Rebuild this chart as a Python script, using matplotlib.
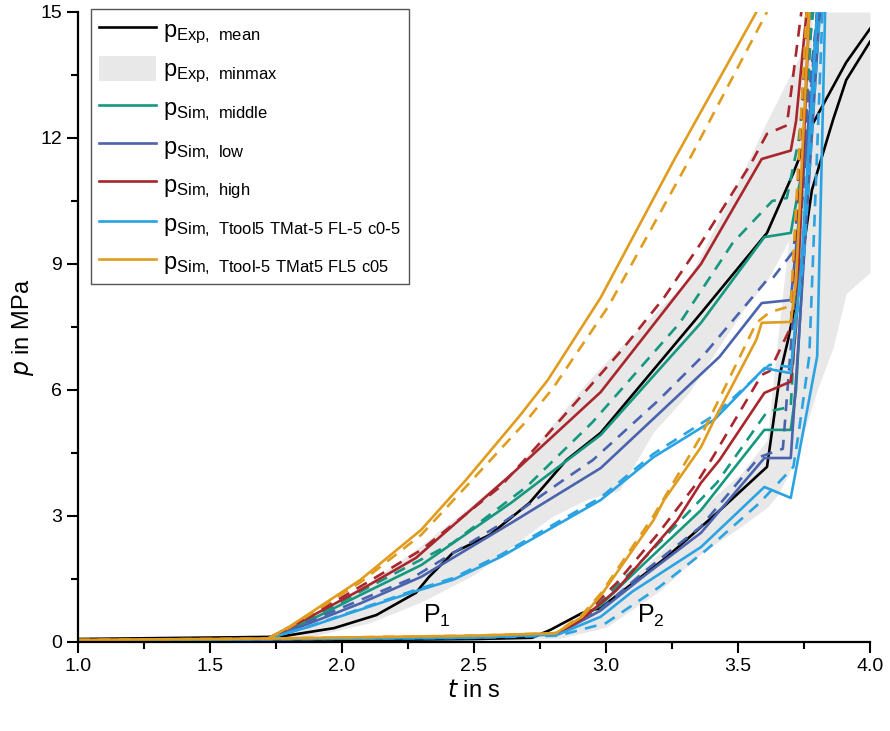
import numpy as np
import matplotlib.pyplot as plt
from matplotlib.patches import Patch
from matplotlib.lines import Line2D

plt.rcParams['font.family'] = ['Liberation Sans', 'DejaVu Sans']
plt.rcParams['mathtext.default'] = 'regular'

# experimental mean, position P1 and P2
t_exp1 = [1.0, 1.72, 1.78, 1.97, 2.13, 2.28, 2.33, 2.42, 2.56, 2.71, 2.85, 2.98, 3.36, 3.61, 3.71, 3.78, 3.91, 4.0]
p_exp1 = [0.07, 0.12, 0.14, 0.33, 0.64, 1.17, 1.55, 2.12, 2.55, 3.31, 4.33, 4.98, 7.83, 9.74, 11.17, 12.3, 13.8, 14.6]
t_exp2 = [1.0, 2.0, 2.5, 2.72, 2.79, 2.91, 2.98, 3.23, 3.42, 3.61, 3.66, 3.69, 3.72, 3.78, 3.86, 3.91, 4.0]
p_exp2 = [0.02, 0.04, 0.07, 0.1, 0.29, 0.69, 0.81, 2.02, 3.07, 4.17, 6.4, 7.2, 8.14, 10.76, 12.43, 13.38, 14.29]

# experimental min/max band
t_band1 = [1.0, 1.72, 1.9, 2.1, 2.3, 2.5, 2.67, 2.8, 2.93, 3.05, 3.18, 3.31, 3.52, 3.61, 3.73, 3.78]
lo_band1 = [0.0, 0.03, 0.15, 0.45, 0.95, 1.6, 2.4, 3.0, 3.4, 3.6, 5.0, 5.9, 7.9, 8.6, 10.0, 11.0]
hi_band1 = [0.12, 0.15, 0.65, 1.4, 2.3, 3.3, 4.2, 5.2, 6.2, 7.0, 7.8, 8.6, 11.2, 12.4, 13.9, 15.0]
t_band2 = [1.0, 2.5, 2.82, 3.0, 3.2, 3.36, 3.51, 3.61, 3.65, 3.7, 3.73, 3.76, 3.8, 3.86, 3.91, 4.0]
lo_band2 = [0.0, 0.05, 0.08, 0.35, 1.2, 2.1, 2.74, 3.2, 3.5, 4.1, 4.57, 5.2, 6.0, 7.0, 8.3, 8.8]
hi_band2 = [0.1, 0.15, 0.25, 1.0, 2.1, 3.2, 4.0, 4.8, 7.2, 10.0, 11.5, 13.0, 15.0, 15.0, 15.0, 15.0]

# simulations, P1 (solid / dashed)
t_mid1 = [1.72, 1.88, 2.07, 2.3, 2.64, 2.98, 3.36, 3.6, 3.7, 3.73, 3.77, 3.8]
p_mid1 = [0.08, 0.52, 1.12, 1.83, 3.31, 4.93, 7.6, 9.64, 9.74, 10.8, 11.95, 15.0]
t_mid1d = [1.72, 1.88, 2.07, 2.42, 2.7, 2.95, 3.28, 3.48, 3.63, 3.685, 3.73, 3.785]
p_mid1d = [0.08, 0.55, 1.2, 2.36, 3.7, 5.24, 7.6, 9.5, 10.5, 10.57, 11.95, 15.0]
t_low1 = [1.72, 1.88, 2.07, 2.3, 2.64, 2.98, 3.43, 3.59, 3.7, 3.81]
p_low1 = [0.08, 0.45, 0.92, 1.55, 2.83, 4.14, 6.79, 8.07, 8.14, 15.0]
t_low1d = [1.72, 1.88, 2.07, 2.26, 2.6, 2.84, 2.95, 3.2, 3.37, 3.61, 3.63, 3.71, 3.8]
p_low1d = [0.08, 0.5, 1.0, 1.5, 2.8, 3.86, 4.33, 5.76, 6.83, 8.62, 8.65, 9.3, 15.0]
t_high1 = [1.72, 1.88, 2.07, 2.28, 2.64, 2.98, 3.31, 3.36, 3.59, 3.7, 3.72, 3.76]
p_high1 = [0.08, 0.6, 1.24, 2.0, 3.98, 5.95, 8.6, 9.0, 11.5, 11.7, 12.4, 15.0]
t_high1d = [1.72, 1.88, 2.07, 2.3, 2.6, 2.75, 2.91, 3.06, 3.22, 3.36, 3.55, 3.61, 3.685, 3.74]
p_high1d = [0.08, 0.62, 1.32, 2.19, 3.7, 4.74, 5.88, 6.95, 8.2, 9.5, 11.4, 12.1, 12.3, 15.0]
t_hot1 = [1.72, 1.88, 2.07, 2.26, 2.42, 2.6, 2.98, 3.18, 3.41, 3.6, 3.7, 3.74, 3.8]
p_hot1 = [0.08, 0.37, 0.77, 1.17, 1.48, 2.02, 3.38, 4.4, 5.29, 6.52, 6.4, 9.0, 15.0]
t_hot1d = [1.72, 1.88, 2.07, 2.26, 2.42, 2.6, 2.98, 3.18, 3.41, 3.62, 3.7, 3.75, 3.81]
p_hot1d = [0.08, 0.38, 0.79, 1.2, 1.52, 2.07, 3.44, 4.48, 5.4, 6.6, 6.55, 9.2, 15.0]
t_cold1 = [1.72, 1.8, 1.88, 2.07, 2.3, 2.47, 2.67, 2.78, 2.98, 3.26, 3.57]
p_cold1 = [0.08, 0.36, 0.69, 1.48, 2.67, 3.86, 5.36, 6.24, 8.2, 11.5, 15.0]
t_cold1d = [1.72, 1.8, 1.88, 2.07, 2.3, 2.47, 2.69, 2.8, 3.01, 3.3, 3.61]
p_cold1d = [0.08, 0.34, 0.66, 1.42, 2.55, 3.7, 5.2, 6.05, 8.0, 11.3, 15.0]

# simulations, P2 (solid / dashed)
t_mid2 = [1.0, 2.5, 2.82, 2.98, 3.1, 3.36, 3.6, 3.7, 3.72, 3.8]
p_mid2 = [0.03, 0.12, 0.2, 0.88, 1.6, 3.14, 5.05, 5.05, 6.0, 15.0]
t_mid2d = [1.0, 2.5, 2.82, 2.98, 3.1, 3.42, 3.61, 3.7, 3.78]
p_mid2d = [0.03, 0.12, 0.2, 0.95, 1.7, 3.79, 5.48, 5.6, 15.0]
t_low2 = [1.0, 2.5, 2.82, 2.98, 3.15, 3.36, 3.6, 3.7, 3.73, 3.81]
p_low2 = [0.03, 0.12, 0.2, 0.75, 1.6, 2.6, 4.38, 4.38, 7.2, 15.0]
t_low2d = [1.0, 2.5, 2.82, 2.98, 3.15, 3.36, 3.58, 3.67, 3.8]
p_low2d = [0.03, 0.12, 0.2, 0.78, 1.7, 2.75, 4.4, 4.6, 15.0]
t_high2 = [1.0, 2.5, 2.82, 2.91, 3.04, 3.27, 3.36, 3.43, 3.6, 3.7, 3.72, 3.77]
p_high2 = [0.03, 0.12, 0.2, 0.55, 1.24, 2.9, 3.79, 4.33, 5.93, 6.2, 7.5, 15.0]
t_high2d = [1.0, 2.5, 2.82, 2.91, 3.04, 3.2, 3.34, 3.4, 3.59, 3.62, 3.7, 3.76]
p_high2d = [0.03, 0.12, 0.2, 0.6, 1.4, 2.6, 3.75, 4.35, 6.36, 6.45, 7.5, 15.0]
t_hot2 = [1.0, 2.5, 2.82, 2.98, 3.1, 3.36, 3.6, 3.7, 3.8, 3.83]
p_hot2 = [0.03, 0.1, 0.18, 0.6, 1.2, 2.26, 3.69, 3.43, 6.8, 15.0]
t_hot2d = [1.0, 2.5, 2.82, 3.0, 3.2, 3.38, 3.58, 3.71, 3.73, 3.77, 3.82]
p_hot2d = [0.03, 0.1, 0.15, 0.45, 1.3, 2.19, 3.3, 4.17, 4.98, 6.8, 15.0]
t_cold2 = [1.0, 1.7, 2.5, 2.81, 2.91, 2.98, 3.18, 3.22, 3.36, 3.41, 3.57, 3.59, 3.7, 3.72, 3.77]
p_cold2 = [0.05, 0.08, 0.15, 0.21, 0.6, 1.1, 2.9, 3.38, 4.64, 5.29, 7.2, 7.6, 7.62, 8.6, 15.0]
t_cold2d = [1.0, 1.7, 2.5, 2.81, 2.91, 2.98, 3.18, 3.36, 3.57, 3.62, 3.7, 3.76]
p_cold2d = [0.05, 0.08, 0.15, 0.21, 0.65, 1.15, 3.0, 4.9, 7.6, 7.85, 8.0, 15.0]

c_mid = '#16977f'
c_low = '#4a63ad'
c_high = '#a8262c'
c_hot = '#2ba3e2'
c_cold = '#e09c1f'
c_band = '#e8e8e8'

fig, ax = plt.subplots(figsize=(8.9, 7.31), dpi=100)
fig.subplots_adjust(left=0.0876, right=0.9775, bottom=0.1218, top=0.9836)

ax.fill_between(t_band1, lo_band1, hi_band1, color=c_band, lw=0)
ax.fill_between(t_band2, lo_band2, hi_band2, color=c_band, lw=0)

lw = 1.9
dash = (0, (4.5, 3.2))
ax.plot(t_exp1, p_exp1, color='black', lw=lw)
ax.plot(t_exp2, p_exp2, color='black', lw=lw)

sims = [
    (t_mid1, p_mid1, t_mid1d, p_mid1d, c_mid),
    (t_mid2, p_mid2, t_mid2d, p_mid2d, c_mid),
    (t_low1, p_low1, t_low1d, p_low1d, c_low),
    (t_low2, p_low2, t_low2d, p_low2d, c_low),
    (t_high1, p_high1, t_high1d, p_high1d, c_high),
    (t_high2, p_high2, t_high2d, p_high2d, c_high),
    (t_hot1, p_hot1, t_hot1d, p_hot1d, c_hot),
    (t_hot2, p_hot2, t_hot2d, p_hot2d, c_hot),
    (t_cold1, p_cold1, t_cold1d, p_cold1d, c_cold),
    (t_cold2, p_cold2, t_cold2d, p_cold2d, c_cold),
]
for ts, ps, td, pd_, c in sims:
    ax.plot(ts, ps, color=c, lw=lw)
    ax.plot(td, pd_, color=c, lw=lw, ls=dash)

ax.text(2.36, 0.3, 'P$_1$', fontsize=18, ha='center', va='bottom')
ax.text(3.17, 0.3, 'P$_2$', fontsize=18, ha='center', va='bottom')

ax.set_xlim(1.0, 4.0)
ax.set_ylim(0, 15)
ax.set_xticks(np.arange(1.0, 4.01, 0.5))
ax.set_xticks(np.arange(1.25, 4.0, 0.5), minor=True)
ax.set_yticks(np.arange(0, 15.1, 3))
ax.set_yticks(np.arange(1.5, 15, 3), minor=True)
ax.xaxis.set_major_formatter(plt.FormatStrFormatter('%.1f'))
ax.tick_params(which='major', direction='out', length=8, width=1.5, labelsize=14)
ax.tick_params(which='minor', direction='out', length=5, width=1.5)
ax.spines['top'].set_visible(False)
ax.spines['right'].set_visible(False)
for s in ['left', 'bottom']:
    ax.spines[s].set_linewidth(1.6)

ax.set_xlabel('$\\it{t}$ in s', fontsize=17, labelpad=4)
ax.set_ylabel('$\\it{p}$ in MPa', fontsize=17, labelpad=3)

handles = [
    Line2D([], [], color='black', lw=lw),
    Patch(facecolor=c_band, edgecolor='none'),
    Line2D([], [], color=c_mid, lw=lw),
    Line2D([], [], color=c_low, lw=lw),
    Line2D([], [], color=c_high, lw=lw),
    Line2D([], [], color=c_hot, lw=lw),
    Line2D([], [], color=c_cold, lw=lw),
]
labels = [
    'p$_{Exp,\\ mean}$',
    'p$_{Exp,\\ minmax}$',
    'p$_{Sim,\\ middle}$',
    'p$_{Sim,\\ low}$',
    'p$_{Sim,\\ high}$',
    'p$_{Sim,\\ Ttool5\\ TMat\\text{-}5\\ FL\\text{-}5\\ c0\\text{-}5}$',
    'p$_{Sim,\\ Ttool\\text{-}5\\ TMat5\\ FL5\\ c05}$',
]
leg = ax.legend(handles, labels, loc='upper left', bbox_to_anchor=(0.017, 1.004),
                borderaxespad=0, fontsize=17, handlelength=2.45, handleheight=1.3,
                handletextpad=0.3, labelspacing=0.4, fancybox=False,
                framealpha=1, edgecolor='#555555', borderpad=0.3)
leg.get_frame().set_linewidth(1.0)

fig.savefig('out.png', dpi=100)
